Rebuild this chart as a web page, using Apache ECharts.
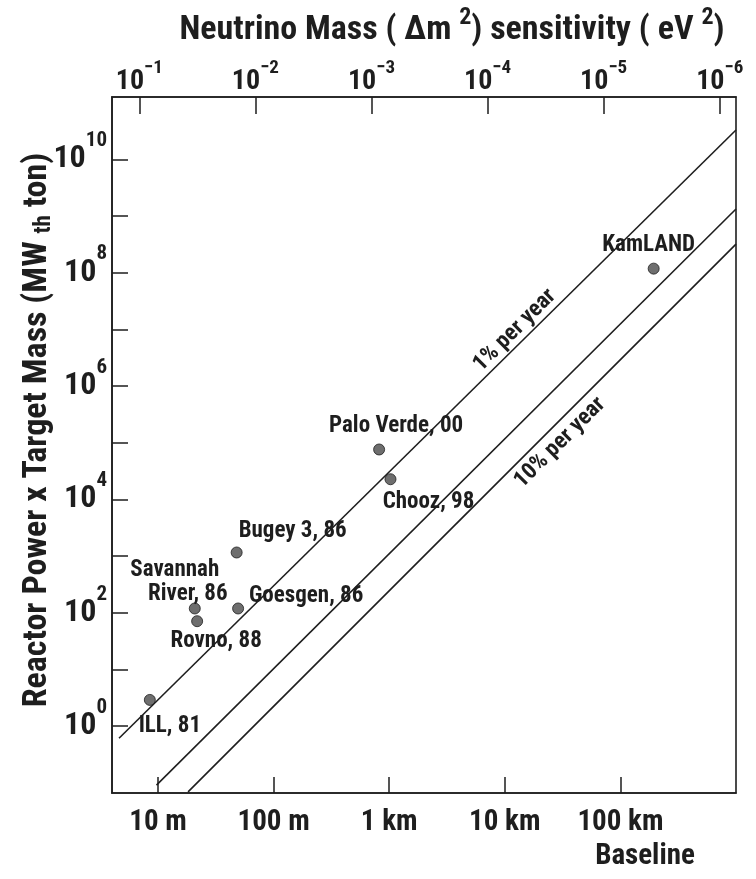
<!DOCTYPE html>
<html>
<head>
<meta charset="utf-8">
<title>Reactor neutrino experiments: baseline vs. power x target mass</title>
<script src="https://cdn.jsdelivr.net/npm/echarts@6/dist/echarts.min.js"></script>
<style>
  html, body { margin: 0; padding: 0; background: #ffffff; }
  #chart { width: 756px; height: 879px; }
</style>
</head>
<body>
<div id="chart"></div>
<script>
// Reactor experiments: baseline (metres) and reactor power x target mass (MW_th ton)
const experimentNames = ['ILL, 81', 'Savannah\nRiver, 86', 'Rovno, 88', 'Bugey 3, 86',
                         'Goesgen, 86', 'Palo Verde, 00', 'Chooz, 98', 'KamLAND'];
const experimentBaselines = [8.5, 20.8, 21.8, 47.9, 49.3, 818, 1026, 1.94e5];
const experimentExposures = [2.9, 119, 71, 1157, 119, 7.6e4, 2.27e4, 1.18e8];

// Constant-sensitivity guide lines, each given by its two end points [baseline, exposure]
const onePercentLine = [[4.6, 0.61], [1e6, 3.3e10]];
const middleLine = [[9.7, 0.091], [1e6, 1.33e9]];
const tenPercentLine = [[18.2, 0.069], [1e6, 3.2e8]];

// Annotations placed beside the guide lines
const guideLabelNames = ['1% per year', '10% per year'];
const guideLabelAnchors = [[1.22e4, 9.6e6], [3.0e4, 1.0e5]];

// Axis ranges and ticks
const baselineRange = [4, 1e6];                    // metres
const baselineTicks = [10, 100, 1000, 1e4, 1e5];
const baselineTickLabels = ['10 m', '100 m', '1 km', '10 km', '100 km'];
const massRange = [10 ** -6.14, 10 ** -0.765];     // eV^2 (runs right to left)
const massTickExponents = [-1, -2, -3, -4, -5, -6];
const exposureRange = [10 ** -1.18, 10 ** 11.1];
const exposureTickExponents = [0, 1, 2, 3, 4, 5, 6, 7, 8, 9, 10];
const exposureLabelExponents = [0, 2, 4, 6, 8, 10];

const FONT = '"Liberation Sans Narrow", "Arial Narrow", "Roboto Condensed", "Noto Sans Condensed", ' +
             '"Open Sans Condensed", "DejaVu Sans Condensed", "Liberation Sans", sans-serif';
const INK = '#1e1e1e';
const lg = Math.log10;

// Label placement around each experiment marker
const labelOffsets = {
  'ILL, 81': [20, 26],
  'Savannah\nRiver, 86': [-7, -26],
  'Rovno, 88': [19, 20],
  'Bugey 3, 86': [56, -21],
  'Goesgen, 86': [68, -12],
  'Palo Verde, 00': [17, -23],
  'Chooz, 98': [38, 23],
  'KamLAND': [-5, -23]
};

const lineStyle = { color: INK, width: 1.6 };
const tickStyle = { color: INK, width: 1.5 };
const axisLineStyle = { color: INK, width: 1.6 };
const textFont = { fontFamily: FONT, fontWeight: 'bold', color: INK };

function guideSeries(points) {
  return {
    type: 'line',
    data: points.map(p => [lg(p[0]), lg(p[1])]),
    symbol: 'none',
    lineStyle: lineStyle,
    silent: true,
    z: 2
  };
}

// Two-line labels: the first line is nudged left of the second
function experimentLabelText(name) {
  const parts = name.split('\n');
  if (parts.length === 1) return '{n|' + name + '}';
  return '{w|' + parts[0] + '}\n{n|' + parts[1] + '}';
}

const chart = echarts.init(document.getElementById('chart'), null, { renderer: 'canvas' });

chart.setOption({
  animation: false,
  backgroundColor: '#ffffff',
  grid: {
    left: 112, right: 20, top: 97, bottom: 86,
    show: true, borderColor: INK, borderWidth: 1.6, backgroundColor: 'transparent'
  },
  xAxis: [
    {
      type: 'value',
      position: 'bottom',
      min: lg(baselineRange[0]),
      max: lg(baselineRange[1]),
      splitLine: { show: false },
      axisLine: { show: true, onZero: false, lineStyle: axisLineStyle },
      axisTick: { show: true, inside: true, length: 16, lineStyle: tickStyle,
                  customValues: baselineTicks.map(lg) },
      axisLabel: Object.assign({
        customValues: baselineTicks.map(lg),
        margin: 15,
        fontSize: 29,
        formatter: v => {
          const i = baselineTicks.findIndex(t => Math.abs(lg(t) - v) < 1e-6);
          return i >= 0 ? baselineTickLabels[i] : '';
        }
      }, textFont)
    },
    {
      type: 'value',
      position: 'top',
      inverse: true,
      min: lg(massRange[0]),
      max: lg(massRange[1]),
      splitLine: { show: false },
      axisLine: { show: true, onZero: false, lineStyle: axisLineStyle },
      axisTick: { show: true, inside: true, length: 17, lineStyle: tickStyle,
                  customValues: massTickExponents },
      axisLabel: {
        customValues: massTickExponents,
        margin: 1,
        color: INK,
        formatter: v => '{b|10}{e|\u2212' + Math.abs(Math.round(v)) + '}',
        rich: {
          b: Object.assign({ fontSize: 28, lineHeight: 28, verticalAlign: 'bottom' }, textFont),
          e: Object.assign({ fontSize: 19, lineHeight: 19, padding: [0, 0, 18, 0],
                             verticalAlign: 'bottom' }, textFont)
        }
      }
    }
  ],
  yAxis: {
    type: 'value',
    min: lg(exposureRange[0]),
    max: lg(exposureRange[1]),
    splitLine: { show: false },
    axisLine: { show: true, onZero: false, lineStyle: axisLineStyle },
    axisTick: { show: true, inside: true, length: 16, lineStyle: tickStyle,
                customValues: exposureTickExponents },
    axisLabel: {
      customValues: exposureLabelExponents,
      margin: 5,
      color: INK,
      formatter: v => '{b|10}{e|' + Math.round(v) + '}',
      rich: {
        b: Object.assign({ fontSize: 32, lineHeight: 32, verticalAlign: 'bottom' }, textFont),
        e: Object.assign({ fontSize: 21, lineHeight: 21, padding: [0, 0, 24, 0],
                           verticalAlign: 'bottom' }, textFont)
      }
    }
  },
  series: [
    guideSeries(onePercentLine),
    guideSeries(middleLine),
    guideSeries(tenPercentLine),
    {
      type: 'scatter',
      symbol: 'circle',
      symbolSize: 11,
      z: 5,
      itemStyle: { color: '#4a4a4a', borderColor: INK, borderWidth: 1 },
      label: {
        show: true,
        position: ['50%', '50%'],
        align: 'center',
        verticalAlign: 'middle',
        color: INK,
        opacity: 1,
        formatter: p => experimentLabelText(p.name),
        rich: {
          n: Object.assign({ fontSize: 23, lineHeight: 24 }, textFont),
          w: Object.assign({ fontSize: 23, lineHeight: 24, padding: [0, 26, 0, 0] }, textFont)
        }
      },
      data: experimentNames.map((name, i) => ({
        name: name,
        value: [lg(experimentBaselines[i]), lg(experimentExposures[i])],
        label: { offset: labelOffsets[name] }
      }))
    },
    {
      type: 'scatter',
      symbolSize: 0,
      silent: true,
      z: 4,
      label: {
        show: true,
        position: ['50%', '50%'],
        align: 'center',
        verticalAlign: 'middle',
        rotate: 45,
        color: INK,
        opacity: 1,
        formatter: p => '{n|' + p.name + '}',
        rich: { n: Object.assign({ fontSize: 23 }, textFont) }
      },
      data: guideLabelNames.map((name, i) => ({
        name: name,
        value: [lg(guideLabelAnchors[i][0]), lg(guideLabelAnchors[i][1])]
      }))
    }
  ],
  graphic: [
    {
      type: 'text',
      x: 452, y: 30,
      style: {
        text: '{t|Neutrino Mass ( \u0394m }{s|2}{t|) sensitivity ( eV }{s|2}{t|)}',
        align: 'center', verticalAlign: 'middle',
        rich: {
          t: { fontFamily: FONT, fontWeight: 'bold', fontSize: 34, lineHeight: 34,
               verticalAlign: 'bottom', fill: INK },
          s: { fontFamily: FONT, fontWeight: 'bold', fontSize: 24, lineHeight: 24,
               padding: [0, 0, 17, 0], verticalAlign: 'bottom', fill: INK }
        }
      }
    },
    {
      type: 'text',
      x: 37, y: 430,
      rotation: Math.PI / 2,
      style: {
        text: '{a|Reactor Power x Target Mass (MW }{s|th}{a| ton)}',
        align: 'center', verticalAlign: 'middle',
        rich: {
          a: { fontFamily: FONT, fontWeight: 'bold', fontSize: 34, lineHeight: 40,
               verticalAlign: 'middle', fill: INK },
          s: { fontFamily: FONT, fontWeight: 'bold', fontSize: 23, lineHeight: 23,
               padding: [14, 0, 0, 0], verticalAlign: 'middle', fill: INK }
        }
      }
    },
    {
      type: 'text',
      x: 645, y: 857,
      style: {
        text: 'Baseline',
        align: 'center', verticalAlign: 'middle',
        fontFamily: FONT, fontWeight: 'bold', fontSize: 29, fill: INK
      }
    }
  ]
});
</script>
</body>
</html>
